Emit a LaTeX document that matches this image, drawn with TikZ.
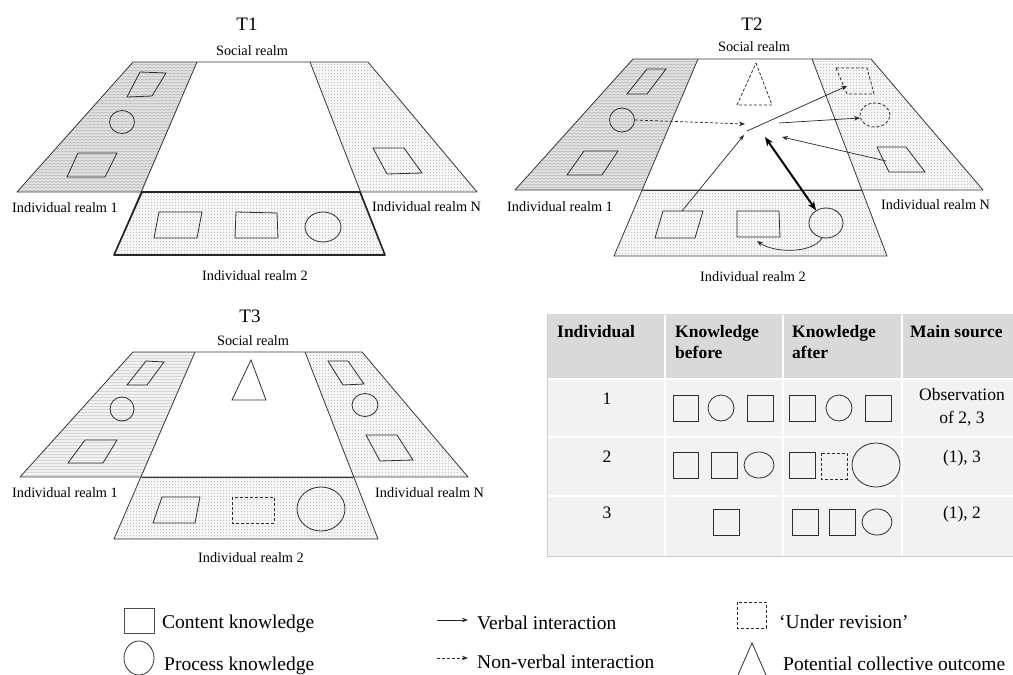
\documentclass[tikz,border=0pt]{standalone}
\usepackage{fontspec}
\setmainfont{Liberation Serif}
\usetikzlibrary{arrows.meta,patterns,shapes.geometric}

% fine fill textures for the realms
\pgfdeclarepatternformonly{wavy}{\pgfqpoint{-0.3pt}{-0.3pt}}{\pgfqpoint{4.3pt}{3.3pt}}{\pgfqpoint{4pt}{3pt}}{%
  \pgfsetlinewidth{0.5pt}%
  \pgfpathmoveto{\pgfqpoint{0pt}{0.7pt}}%
  \pgfpathlineto{\pgfqpoint{2pt}{2.1pt}}%
  \pgfpathlineto{\pgfqpoint{4pt}{0.7pt}}%
  \pgfusepath{stroke}}
\pgfdeclarepatternformonly{finedots}{\pgfqpoint{-0.5pt}{-0.5pt}}{\pgfqpoint{3.5pt}{3.5pt}}{\pgfqpoint{3pt}{3pt}}{%
  \pgfpathcircle{\pgfqpoint{1.5pt}{1.5pt}}{0.5pt}%
  \pgfusepath{fill}}
\pgfdeclarepatternformonly{hlines}{\pgfqpoint{0pt}{0pt}}{\pgfqpoint{1pt}{3.2pt}}{\pgfqpoint{1pt}{3.2pt}}{%
  \pgfsetlinewidth{0.55pt}%
  \pgfpathmoveto{\pgfqpoint{-0.1pt}{1.6pt}}%
  \pgfpathlineto{\pgfqpoint{1.1pt}{1.6pt}}%
  \pgfusepath{stroke}}

\definecolor{hdrgray}{HTML}{D9D9D9}
\definecolor{rowgray}{HTML}{F2F2F2}

% quadrilateral outline and oval node helpers
\newcommand\pq[5][shp]{\draw[#1] (#2) -- (#3) -- (#4) -- (#5) -- cycle;}
\newcommand\ov[5][]{\node[ell,minimum width=#4pt,minimum height=#5pt,#1] (#2) at (#3) {};}
% the three realms of one time frame, from its named corner coordinates
\newcommand\drawframe[2]{%
  \fill[#2] (#1tl) -- (#1lt) -- (#1lm) -- (#1bl) -- cycle;
  \fill[dotfill] (#1rt) -- (#1tr) -- (#1br) -- (#1rm) -- cycle;
  \fill[dotfill] (#1lm) -- (#1rm) -- (#1rb) -- (#1lb) -- cycle;
  \draw[frame] (#1tl) -- (#1tr) -- (#1br) -- (#1bl) -- cycle;
  \draw[frame] (#1lt) -- (#1lb) -- (#1rb) -- (#1rt);
  \draw[frame] (#1lm) -- (#1rm);}

\begin{document}
\begin{tikzpicture}[x=1pt,y=-1pt,
  frame/.style={draw=black!78, line width=0.8pt, line join=round},
  shp/.style={draw=black!82, line width=0.8pt},
  dshp/.style={shp, dash pattern=on 3pt off 2pt},
  ell/.style={ellipse, shp, inner sep=0pt},
  wavefill/.style={preaction={fill=gray!22}, pattern=wavy, pattern color=gray!62},
  linefill/.style={preaction={fill=gray!10}, pattern=hlines, pattern color=gray!62},
  dotfill/.style={preaction={fill=gray!8}, pattern=finedots, pattern color=gray!55},
  ttl/.style={font=\fontsize{19}{22}\selectfont, inner sep=0pt, anchor=base},
  lbl/.style={font=\fontsize{14.3}{17}\selectfont, inner sep=0pt},
  tbl/.style={font=\fontsize{17.5}{20}\selectfont, inner sep=0pt},
  tbh/.style={tbl, font=\fontsize{17.5}{20}\selectfont\bfseries, anchor=base west},
  leg/.style={font=\fontsize{19.5}{23}\selectfont, inner sep=0pt, anchor=base west},
  arr/.style={-{Stealth[length=6pt,width=4.5pt]}, draw=black!85, line width=0.7pt},
  bigarr/.style={{Stealth[length=9pt,width=7pt]}-{Stealth[length=9pt,width=7pt]}, draw=black, line width=2pt},
]
\useasboundingbox (0,0) rectangle (1013,675);

% ---------------- T1 ----------------
\coordinate (Atl) at (133,62);  \coordinate (Alt) at (197,62);
\coordinate (Art) at (310,62);  \coordinate (Atr) at (368,62);
\coordinate (Abl) at (17,192);  \coordinate (Alm) at (142,192);
\coordinate (Arm) at (360,192); \coordinate (Abr) at (477,192);
\coordinate (Alb) at (114,255); \coordinate (Arb) at (385,255);
\drawframe{A}{wavefill}
\draw[frame, line width=1.6pt, draw=black!85] (Alm) -- (Arm) -- (Arb) -- (Alb) -- cycle;
\node[ttl] (Attl) at (247,30) {T1};
\node[lbl, anchor=base] (Asoc) at (252,55) {Social realm};
\node[lbl, anchor=base west] (Ar1) at (12,212) {Individual realm 1};
\node[lbl, anchor=base west] (ArN) at (372,211) {Individual realm N};
\node[lbl, anchor=base] (Ar2) at (255,280) {Individual realm 2};
\pq{140,72}{166,73}{152,96}{127,97}
\ov{Ac1}{122,122}{25}{23}
\pq{78,153}{117,153}{105,177}{67,177}
\pq{373,148}{404,148}{422,173}{387,174}
\pq{159,212}{202,212}{197,238}{154,238}
\pq{236,212}{277,213}{278,238}{235,238}
\ov{Ac2}{323,227}{36}{30}

% ---------------- T2 ----------------
\coordinate (Btl) at (633,59);  \coordinate (Blt) at (698,59);
\coordinate (Brt) at (812,59);  \coordinate (Btr) at (871,59);
\coordinate (Bbl) at (515,190); \coordinate (Blm) at (642,190);
\coordinate (Brm) at (862,190); \coordinate (Bbr) at (983,190);
\coordinate (Blb) at (614,256); \coordinate (Brb) at (887,256);
\drawframe{B}{wavefill}
\node[ttl] (Bttl) at (752,30) {T2};
\node[lbl, anchor=base] (Bsoc) at (754,51) {Social realm};
\node[lbl, anchor=base west] (Br1) at (507,211) {Individual realm 1};
\node[lbl, anchor=base west] (BrN) at (881,209) {Individual realm N};
\node[lbl, anchor=base] (Br2) at (753,281) {Individual realm 2};
\pq{647,69}{666,69}{647,94}{627,94}
\ov{Bc1}{622,120}{25}{24}
\pq{584,151}{618,151}{602,175}{567,175}
\draw[dshp] (756,63) -- (772,105) -- (737,105) -- cycle;
\pq[dshp]{836,68}{867,68}{874,94}{847,94}
\ov[dshp]{BcN}{875,115}{30}{24}
\pq{877,147}{906,147}{925,172}{889,172}
\pq{663,211}{703,211}{695,238}{655,238}
\pq{737,211}{779,211}{780,237}{737,237}
\ov{Bc2}{826,223}{34}{30}
% interaction points in the social realm
\coordinate (Bp1) at (682,211);
\coordinate (Bh1) at (745,124);
\coordinate (Bh2) at (744,135);
\coordinate (Bh3) at (747,131);
\coordinate (Bq1) at (847,86);
\coordinate (Bh4) at (779,123);
\coordinate (Bq2) at (860,118);
\coordinate (Bq3) at (886,161);
\coordinate (Bh5) at (782,137);
\coordinate (Bh6) at (765,137);
\coordinate (Bq4) at (757,241);
\draw[arr, dash pattern=on 3pt off 2pt] (Bc1.east) -- (Bh1);
\draw[arr] (Bp1) -- (Bh2);
\draw[arr] (Bh3) -- (Bq1);
\draw[arr] (Bh4) -- (Bq2);
\draw[arr] (Bq3) -- (Bh5);
\draw[bigarr] (Bh6) -- (Bc2.128);
\draw[arr] (Bc2.255) .. controls (812,254) and (774,253) .. (Bq4);

% ---------------- T3 ----------------
\coordinate (Ctl) at (133,352); \coordinate (Clt) at (195,352);
\coordinate (Crt) at (305,352); \coordinate (Ctr) at (362,352);
\coordinate (Cbl) at (20,477);  \coordinate (Clm) at (142,477);
\coordinate (Crm) at (353,477); \coordinate (Cbr) at (468,477);
\coordinate (Clb) at (114,539); \coordinate (Crb) at (378,539);
\drawframe{C}{linefill}
\node[ttl] (Cttl) at (250,322) {T3};
\node[lbl, anchor=base] (Csoc) at (253,345) {Social realm};
\node[lbl, anchor=base west] (Cr1) at (12,497) {Individual realm 1};
\node[lbl, anchor=base west] (CrN) at (375,497) {Individual realm N};
\node[lbl, anchor=base] (Cr2) at (251,562) {Individual realm 2};
\pq{146,361}{164,362}{147,385}{127,385}
\ov{Cc1}{122,409}{24}{24}
\pq{85,440}{117,440}{103,463}{68,463}
\draw[shp] (251,360) -- (266,400) -- (232,400) -- cycle;
\pq{328,361}{348,361}{364,384}{343,385}
\ov{CcN}{365,405}{26}{23}
\pq{366,435}{397,435}{413,460}{380,461}
\pq{162,497}{200,497}{195,523}{153,523}
\draw[dshp] (232,497) rectangle (274,523);
\ov{Cc2}{321,509}{48}{44}

% ---------------- table ----------------
\fill[hdrgray] (547,314) rectangle (1013,378);
\fill[rowgray] (547,380) rectangle (1013,556);
\draw[white, line width=2pt] (665,314) -- (665,556) (783,314) -- (783,556) (902,314) -- (902,556);
\draw[white, line width=1.5pt] (547,437) -- (1013,437) (547,496) -- (1013,496);
\draw[gray!30, line width=0.8pt] (547,314) -- (1013,314);
\draw[gray!40, line width=1pt] (547,314) -- (547,556) -- (1013,556);
\node[tbh] (h1) at (557,337) {Individual};
\node[tbh] (h2a) at (675,337) {Knowledge};
\node[tbh] (h2b) at (675,358) {before};
\node[tbh] (h3a) at (792,337) {Knowledge};
\node[tbh] (h3b) at (792,358) {after};
\node[tbh] (h4) at (910,337) {Main source};
\node[tbl, anchor=base] (r1) at (607,404) {1};
\node[tbl, anchor=base] (r2) at (607,462) {2};
\node[tbl, anchor=base] (r3) at (607,518) {3};
\node[tbl, anchor=base] (s1a) at (962,400) {Observation};
\node[tbl, anchor=base] (s1b) at (962,423) {of 2, 3};
\node[tbl, anchor=base] (s2) at (962,462) {(1), 3};
\node[tbl, anchor=base] (s3) at (962,518) {(1), 2};
% row 1
\draw[shp] (673,395) rectangle (698,421);
\ov{t1b}{721,408}{26}{26}
\draw[shp] (747,395) rectangle (773,421);
\draw[shp] (789,395) rectangle (815,421);
\ov{t1a}{839,408}{26}{26}
\draw[shp] (865,395) rectangle (891,421);
% row 2
\draw[shp] (673,452) rectangle (698,478);
\draw[shp] (711,452) rectangle (737,478);
\ov{t2b}{759,465}{30}{26}
\draw[shp] (789,452) rectangle (815,478);
\draw[dshp] (821,453) rectangle (847,479);
\ov{t2a}{876,465}{48}{44}
% row 3
\draw[shp] (713,509) rectangle (739,535);
\draw[shp] (792,509) rectangle (818,535);
\draw[shp] (829,509) rectangle (855,535);
\ov{t3a}{877,522}{30}{26}

% ---------------- legend ----------------
\draw[shp, draw=black!70, line width=1pt] (124,608) rectangle (154,633);
\node[leg] (l1) at (162,628) {Content knowledge};
\ov[draw=black!80]{lc}{139,658}{30}{34}
\node[leg] (l2) at (164,670) {Process knowledge};
\coordinate (la1) at (437,620); \coordinate (la2) at (468,620);
\draw[arr, line width=0.9pt] (la1) -- (la2);
\node[leg] (l3) at (477,629) {Verbal interaction};
\coordinate (lb1) at (437,658); \coordinate (lb2) at (468,658);
\draw[arr, line width=0.9pt, dash pattern=on 3pt off 2pt] (lb1) -- (lb2);
\node[leg] (l4) at (477,668) {Non-verbal interaction};
\draw[dshp] (737,602) rectangle (766,628);
\node[leg] (l5) at (779,628) {‘Under revision’};
\draw[shp] (738,675) -- (752,643) -- (766,675);
\node[leg] (l6) at (783,670) {Potential collective outcome};
\end{tikzpicture}
\end{document}
